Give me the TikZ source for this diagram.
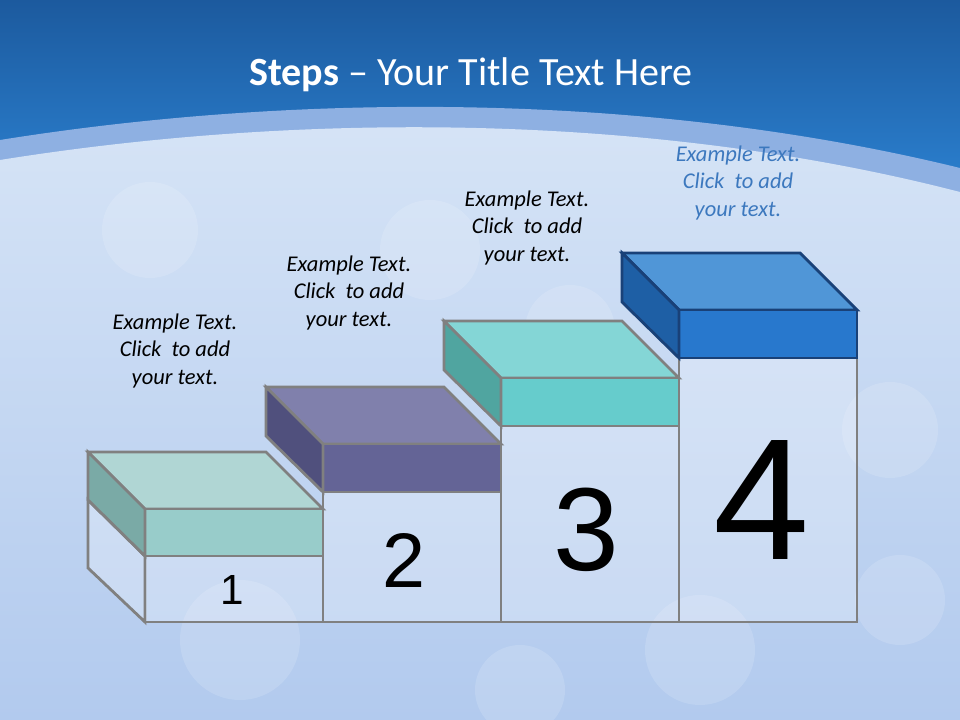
\documentclass[tikz,border=0pt]{standalone}
\usepackage{fontspec}
\setmainfont{Carlito}
\newfontfamily\digitfont{Liberation Sans}
\usepackage{xcolor}
\usepackage{tikz}

\definecolor{skytop}{RGB}{28,90,158}
\definecolor{skybot}{RGB}{44,130,210}
\definecolor{bandblue}{RGB}{142,176,226}
\definecolor{frosttop}{RGB}{214,228,246}
\definecolor{frostbot}{RGB}{178,202,238}
\definecolor{edgegray}{RGB}{128,128,128}
\definecolor{edgeblue}{RGB}{25,65,120}
\definecolor{mintTop}{RGB}{176,214,212}
\definecolor{mintFront}{RGB}{152,204,202}
\definecolor{mintSide}{RGB}{122,170,166}
\definecolor{plumTop}{RGB}{128,128,172}
\definecolor{plumFront}{RGB}{100,100,150}
\definecolor{plumSide}{RGB}{80,80,125}
\definecolor{aquaTop}{RGB}{132,214,214}
\definecolor{aquaFront}{RGB}{102,204,204}
\definecolor{aquaSide}{RGB}{80,165,160}
\definecolor{royalTop}{RGB}{80,150,215}
\definecolor{royalFront}{RGB}{40,120,205}
\definecolor{royalSide}{RGB}{30,95,165}
\definecolor{hintblue}{RGB}{60,120,190}

\begin{document}
\begin{tikzpicture}[
  x=0.025cm, y=-0.025cm,
  edge/.style={draw=edgegray, line width=2pt, line join=miter},
  pedestal/.style={edge, fill=white, fill opacity=0.25},
  bokeh/.style={fill=white, opacity=0.14},
  hint/.style={align=center, font=\fontsize{16}{19.5}\selectfont\itshape},
  digit/.style={font=\digitfont\fontsize{#1}{#1}\selectfont}
]
\useasboundingbox (0,0) rectangle (960,720);

% background
\fill[skybot] (0,0) rectangle (960,720);
\shade[top color=skytop, bottom color=skybot] (0,0) rectangle (960,200);
\fill[bandblue] (0,140) .. controls (300,92) and (650,92) .. (960,168)
  -- (960,720) -- (0,720) -- cycle;
\shade[top color=frosttop, bottom color=frostbot]
  (0,160) .. controls (300,112) and (650,112) .. (960,192)
  -- (960,720) -- (0,720) -- cycle;
\begin{scope}
  \clip (0,160) .. controls (300,112) and (650,112) .. (960,192)
    -- (960,720) -- (0,720) -- cycle;
  \fill[bokeh] (150,230) circle (48);
  \fill[bokeh] (430,250) circle (50);
  \fill[bokeh] (570,330) circle (45);
  \fill[bokeh] (890,430) circle (48);
  \fill[bokeh] (240,640) circle (60);
  \fill[bokeh] (520,690) circle (45);
  \fill[bokeh] (700,650) circle (55);
  \fill[bokeh] (900,600) circle (45);
\end{scope}

% title
\node[text=white, font=\fontsize{28.5}{34}\selectfont] (title) at (471,75)
  {\textbf{Steps} – Your Title Text Here};

% pedestals
\draw[pedestal] (88,500) -- (145,556) -- (145,622) -- (88,568) -- cycle;
\draw[pedestal] (145,556) rectangle (323,622);
\draw[pedestal] (323,492) rectangle (501,622);
\draw[pedestal] (501,426) rectangle (679,622);
\draw[pedestal] (679,358) rectangle (857,622);

% step 1
\filldraw[edge, fill=mintTop] (88,452) -- (266,452) -- (323,509) -- (145,509) -- cycle;
\filldraw[edge, fill=mintFront] (145,509) rectangle (323,556);
\filldraw[edge, fill=mintSide] (88,452) -- (145,509) -- (145,556) -- (88,500) -- cycle;
% step 2
\filldraw[edge, fill=plumTop] (266,387) -- (444,387) -- (501,444) -- (323,444) -- cycle;
\filldraw[edge, fill=plumFront] (323,444) rectangle (501,492);
\filldraw[edge, fill=plumSide] (266,387) -- (323,444) -- (323,492) -- (266,436) -- cycle;
% step 3
\filldraw[edge, fill=aquaTop] (444,321) -- (622,321) -- (679,378) -- (501,378) -- cycle;
\filldraw[edge, fill=aquaFront] (501,378) rectangle (679,426);
\filldraw[edge, fill=aquaSide] (444,321) -- (501,378) -- (501,426) -- (444,370) -- cycle;
% step 4
\filldraw[edge, draw=edgeblue, fill=royalTop] (622,253) -- (800,253) -- (857,310) -- (679,310) -- cycle;
\filldraw[edge, draw=edgeblue, fill=royalFront] (679,310) rectangle (857,358);
\filldraw[edge, draw=edgeblue, fill=royalSide] (622,253) -- (679,310) -- (679,358) -- (622,302) -- cycle;

% numbers
\node[digit=30] (one) at (232,590) {1};
\node[digit=55] (two) at (404,560) {2};
\node[digit=84] (three) at (586,530) {3};
\node[digit=123] (four) at (762,500) {4};

% hints
\node[hint] (hintA) at (175,351) {Example Text.\\Click\ \ to add\\your text.};
\node[hint] (hintB) at (349,293) {Example Text.\\Click\ \ to add\\your text.};
\node[hint] (hintC) at (527,228) {Example Text.\\Click\ \ to add\\your text.};
\node[hint, text=hintblue] (hintD) at (738,183) {Example Text.\\Click\ \ to add\\your text.};
\end{tikzpicture}
\end{document}
